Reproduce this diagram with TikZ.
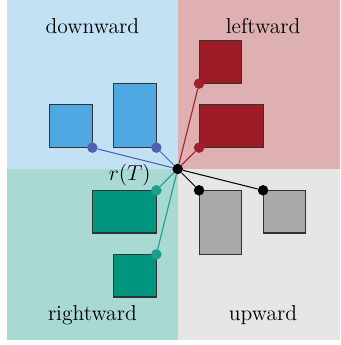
\documentclass[tikz,border=0pt]{standalone}
\usepackage{amsmath}
\usepackage{amssymb}

\definecolor{bgdown}{HTML}{C2E1F5}
\definecolor{bgleft}{HTML}{DEB0B2}
\definecolor{bgright}{HTML}{A8DAD3}
\definecolor{bgup}{HTML}{E6E6E6}
\definecolor{cdown}{HTML}{50A8E2}
\definecolor{cleft}{HTML}{9E1B28}
\definecolor{cright}{HTML}{00957E}
\definecolor{cup}{HTML}{A9A9A9}
\definecolor{ldown}{HTML}{4A62B0}
\definecolor{lleft}{HTML}{A51E2B}
\definecolor{lright}{HTML}{1A9F88}

\tikzset{
  box/.style={draw=black!80,line width=0.7pt,fill=#1},
  dot/.style={circle,fill=#1,inner sep=0pt,minimum size=7pt},
  edge/.style={draw=#1,line width=0.7pt},
  root/.style={circle,fill=black,inner sep=0pt,minimum size=7pt}
}

\begin{document}
\begin{tikzpicture}[x=0.5cm,y=0.5cm,font=\Large]
\useasboundingbox (-8.33,-8.25) rectangle (7.61,7.92);
\fill[bgdown] (-8,0) rectangle (0,7.92);
\fill[bgleft] (0,0) rectangle (7.61,7.92);
\fill[bgright] (-8,-8) rectangle (0,0);
\fill[bgup] (0,-8) rectangle (7.61,0);
\node (tdown) at (-4,6.7) {downward};
\node (tleft) at (4,6.7) {leftward};
\node (tright) at (-4,-6.85) {rightward};
\node (tup) at (4,-6.85) {upward};
\draw[box=cdown] (-6,1) rectangle (-4,3);
\draw[box=cdown] (-3,1) rectangle (-1,4);
\draw[box=cleft] (1,4) rectangle (3,6);
\draw[box=cleft] (1,1) rectangle (4,3);
\draw[box=cright] (-4,-1) rectangle (-1,-3);
\draw[box=cright] (-3,-4) rectangle (-1,-6);
\draw[box=cup] (1,-1) rectangle (3,-4);
\draw[box=cup] (4,-1) rectangle (6,-3);
\node[root] (R) at (0,0) {};
\node (rT) at (-2.25,-0.3) {$r(T)$};
\node[dot=ldown] (D1) at (-4,1) {};
\node[dot=ldown] (D2) at (-1,1) {};
\node[dot=lleft] (L1) at (1,4) {};
\node[dot=lleft] (L2) at (1,1) {};
\node[dot=lright] (G1) at (-1,-1) {};
\node[dot=lright] (G2) at (-1,-4) {};
\node[dot=black] (U1) at (1,-1) {};
\node[dot=black] (U2) at (4,-1) {};
\draw[edge=ldown] (R) -- (D1);
\draw[edge=ldown] (R) -- (D2);
\draw[edge=lleft] (R) -- (L1);
\draw[edge=lleft] (R) -- (L2);
\draw[edge=lright] (R) -- (G1);
\draw[edge=lright] (R) -- (G2);
\draw[edge=black] (R) -- (U1);
\draw[edge=black] (R) -- (U2);
\end{tikzpicture}
\end{document}
